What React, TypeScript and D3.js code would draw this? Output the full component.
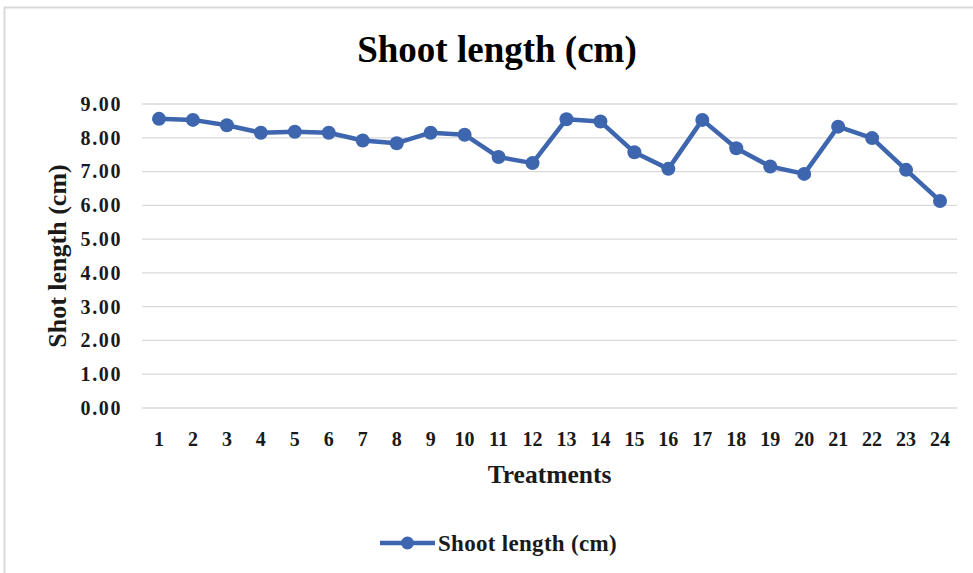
import React, { useEffect, useRef } from "react";
import * as d3 from "d3";

// treatments 1..24
const treatments = d3.range(1, 25).map(String);
// shoot length in cm
const shootLength = [
  8.56, 8.53, 8.37, 8.15, 8.18, 8.15, 7.92, 7.84, 8.15, 8.09, 7.43, 7.25,
  8.55, 8.48, 7.57, 7.08, 8.53, 7.69, 7.15, 6.93, 8.33, 7.99, 7.05, 6.13,
];
const yTicks = [0, 1, 2, 3, 4, 5, 6, 7, 8, 9];

const svgWidth = 973, svgHeight = 573;
const left = 142, right = 957, top = 104, bottom = 408;
const blue = "#3E66AE";
const ink = "#1a1a1a";
const font = "'Liberation Serif', 'Times New Roman', serif";

const App = () => {
  const ref = useRef<SVGSVGElement>(null);

  useEffect(() => {
    const svg = d3.select(ref.current);
    svg.selectAll("*").remove();

    // chart border (right and bottom are cut off in the picture)
    svg.append("rect")
      .attr("x", 4.5).attr("y", 7.5)
      .attr("width", 980).attr("height", 580)
      .attr("fill", "white")
      .attr("stroke", "#d9d9d9")
      .attr("stroke-width", 2);

    const xScale = d3.scaleBand().domain(treatments).range([left, right]);
    const yScale = d3.scaleLinear().domain([0, 9]).range([bottom, top]);

    svg.append("text")
      .attr("x", 497).attr("y", 62)
      .attr("text-anchor", "middle")
      .attr("font-family", font).attr("font-weight", "bold")
      .attr("font-size", 37).attr("fill", "#000")
      .text("Shoot length (cm)");

    // grid lines
    svg.append("g")
      .selectAll("line")
      .data(yTicks)
      .enter()
      .append("line")
      .attr("x1", left).attr("x2", right)
      .attr("y1", (d) => yScale(d)).attr("y2", (d) => yScale(d))
      .attr("stroke", "#d9d9d9").attr("stroke-width", 1.3);

    const yAxis = d3.axisLeft(yScale)
      .tickValues(yTicks)
      .tickFormat(d3.format(".2f"))
      .tickSize(0).tickPadding(20);
    const gy = svg.append("g")
      .attr("transform", "translate(" + left + ",0)")
      .call(yAxis);
    gy.select(".domain").remove();
    gy.selectAll("text")
      .attr("font-family", font).attr("font-weight", "bold")
      .attr("font-size", 20).attr("letter-spacing", 1.6)
      .attr("fill", ink);

    const xAxis = d3.axisBottom(xScale).tickSize(0).tickPadding(24);
    const gx = svg.append("g")
      .attr("transform", "translate(0," + bottom + ")")
      .call(xAxis);
    gx.select(".domain").remove();
    gx.selectAll("text")
      .attr("font-family", font).attr("font-weight", "bold")
      .attr("font-size", 20).attr("fill", ink);

    // axis titles
    svg.append("text")
      .attr("x", (left + right) / 2).attr("y", 483)
      .attr("text-anchor", "middle")
      .attr("font-family", font).attr("font-weight", "bold")
      .attr("font-size", 25.5).attr("fill", ink)
      .text("Treatments");
    svg.append("text")
      .attr("transform", "translate(66," + (top + bottom) / 2 + ") rotate(-90)")
      .attr("text-anchor", "middle")
      .attr("font-family", font).attr("font-weight", "bold")
      .attr("font-size", 26).attr("fill", ink)
      .text("Shot length (cm)");

    const cx = (d: string) => (xScale(d) as number) + xScale.bandwidth() / 2;
    const line = d3.line<number>()
      .x((d, i) => cx(treatments[i]))
      .y((d) => yScale(d));

    svg.append("path")
      .datum(shootLength)
      .attr("d", line)
      .attr("fill", "none")
      .attr("stroke", blue)
      .attr("stroke-width", 4.5)
      .attr("stroke-linejoin", "round");

    svg.append("g")
      .selectAll("circle")
      .data(shootLength)
      .enter()
      .append("circle")
      .attr("cx", (d, i) => cx(treatments[i]))
      .attr("cy", (d) => yScale(d))
      .attr("r", 7)
      .attr("fill", blue);

    // legend
    const lg = svg.append("g").attr("transform", "translate(380,543)");
    lg.append("line")
      .attr("x1", 0).attr("x2", 55)
      .attr("stroke", blue).attr("stroke-width", 4.5);
    lg.append("circle").attr("cx", 27.5).attr("r", 6.5).attr("fill", blue);
    lg.append("text")
      .attr("x", 58).attr("y", 8)
      .attr("font-family", font).attr("font-weight", "bold")
      .attr("font-size", 23).attr("letter-spacing", 0.3)
      .attr("fill", ink)
      .text("Shoot length (cm)");
  }, []);

  return (
    <svg
      ref={ref}
      width={svgWidth}
      height={svgHeight}
      style={{ position: "absolute", left: 0, top: 0, background: "white" }}
    />
  );
};

export default App;
